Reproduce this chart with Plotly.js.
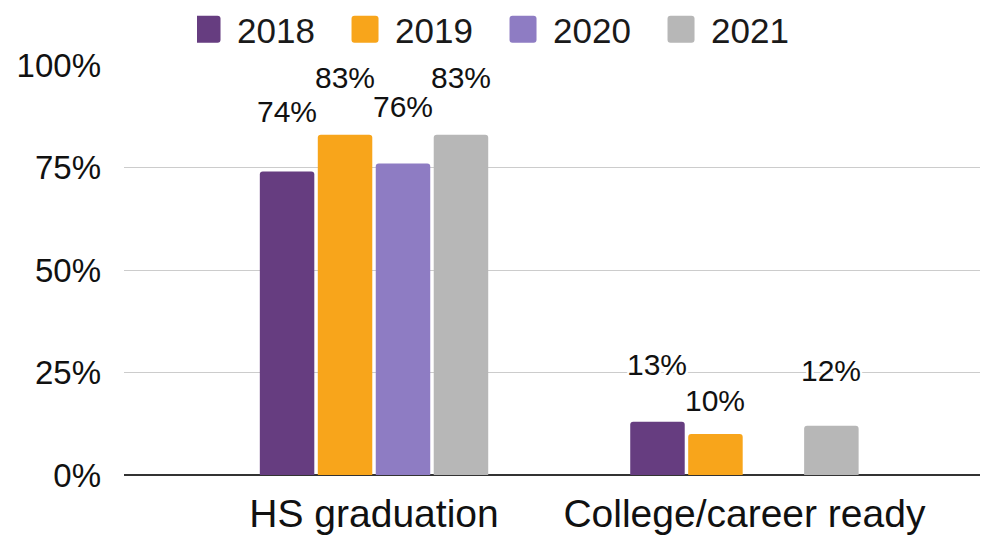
<!DOCTYPE html>
<html>
<head>
<meta charset="utf-8">
<script src="https://cdn.plot.ly/plotly-3.0.1.min.js"></script>
<style>html,body{margin:0;padding:0;background:#fff;}#chart{width:1002px;height:540px;}</style>
</head>
<body>
<div id="chart"></div>
<script>
const categories = ['HS graduation', 'College/career ready'];
const years = ['2018', '2019', '2020', '2021'];
const values2018 = [74, 13];
const values2019 = [83, 10];
const values2020 = [76, null];
const values2021 = [83, 12];
const yTicks = [0, 25, 50, 75, 100];
const yTickLabels = ['0%', '25%', '50%', '75%', '100%'];

const series = [values2018, values2019, values2020, values2021];
const colors = ['#663d80', '#f8a51b', '#8e7cc3', '#b7b7b7'];
// vertical lift (px) of each value label above its bar, per category then series
const labelLift = [[60, 57, 57, 57], [57, 34, 0, 55]];

const FONT = '"Liberation Sans", Arial, sans-serif';
const bargap = 0.374, bargroupgap = 0.06;

const traces = series.map((vals, i) => ({
  type: 'bar',
  name: years[i],
  x: categories,
  y: vals,
  marker: { color: colors[i], cornerradius: 3 },
  hoverinfo: 'skip'
}));

const annotations = [];
series.forEach((vals, i) => {
  vals.forEach((v, c) => {
    if (v === null) return;
    annotations.push({
      xref: 'x', yref: 'y',
      x: c + (i - 1.5) * (1 - bargap) / 4,
      y: v,
      yanchor: 'middle',
      yshift: labelLift[c][i],
      text: v + '%',
      showarrow: false,
      font: { family: FONT, size: 30, color: '#111',
              shadow: '2px 0 0 #fff, -2px 0 0 #fff, 0 2px 0 #fff, 0 -2px 0 #fff, 2px 2px 0 #fff, -2px -2px 0 #fff, 2px -2px 0 #fff, -2px 2px 0 #fff' }
    });
  });
});

const layout = {
  width: 1002, height: 540,
  margin: { l: 124, r: 22, t: 65, b: 65 },
  paper_bgcolor: '#fff', plot_bgcolor: '#fff',
  font: { family: FONT, color: '#111' },
  barmode: 'group',
  bargap: bargap,
  bargroupgap: bargroupgap,
  showlegend: true,
  legend: {
    orientation: 'h', xref: 'container', yref: 'container',
    x: 0.512, xanchor: 'center', y: 1.0, yanchor: 'top',
    font: { family: FONT, size: 35, color: '#1a1a1a' },
    entrywidth: 113, entrywidthmode: 'pixels',
    itemclick: false
  },
  xaxis: {
    type: 'category',
    range: [-0.675, 1.636],
    showgrid: false, showline: false, ticks: '',
    tickfont: { family: FONT, size: 39, color: '#111' },
    ticklabelstandoff: 12
  },
  yaxis: {
    range: [0, 100],
    tickvals: yTicks, ticktext: yTickLabels,
    showgrid: true, gridcolor: '#cccccc', gridwidth: 1,
    zeroline: true, zerolinecolor: '#333', zerolinewidth: 2,
    showline: false, ticks: '',
    tickfont: { family: FONT, size: 33, color: '#111' },
    ticklabelstandoff: 22
  },
  annotations: annotations
};

Plotly.newPlot('chart', traces, layout, { staticPlot: true, displayModeBar: false }).then(() => {
  document.querySelectorAll('.legendbar, .legendpoints path').forEach(p => {
    p.setAttribute('d', 'M3.5,10.5Q3.5,13.5 0.5,13.5H-20.5Q-23.5,13.5 -23.5,10.5V-10.5Q-23.5,-13.5 -20.5,-13.5H0.5Q3.5,-13.5 3.5,-10.5Z');
  });
});
</script>
</body>
</html>
